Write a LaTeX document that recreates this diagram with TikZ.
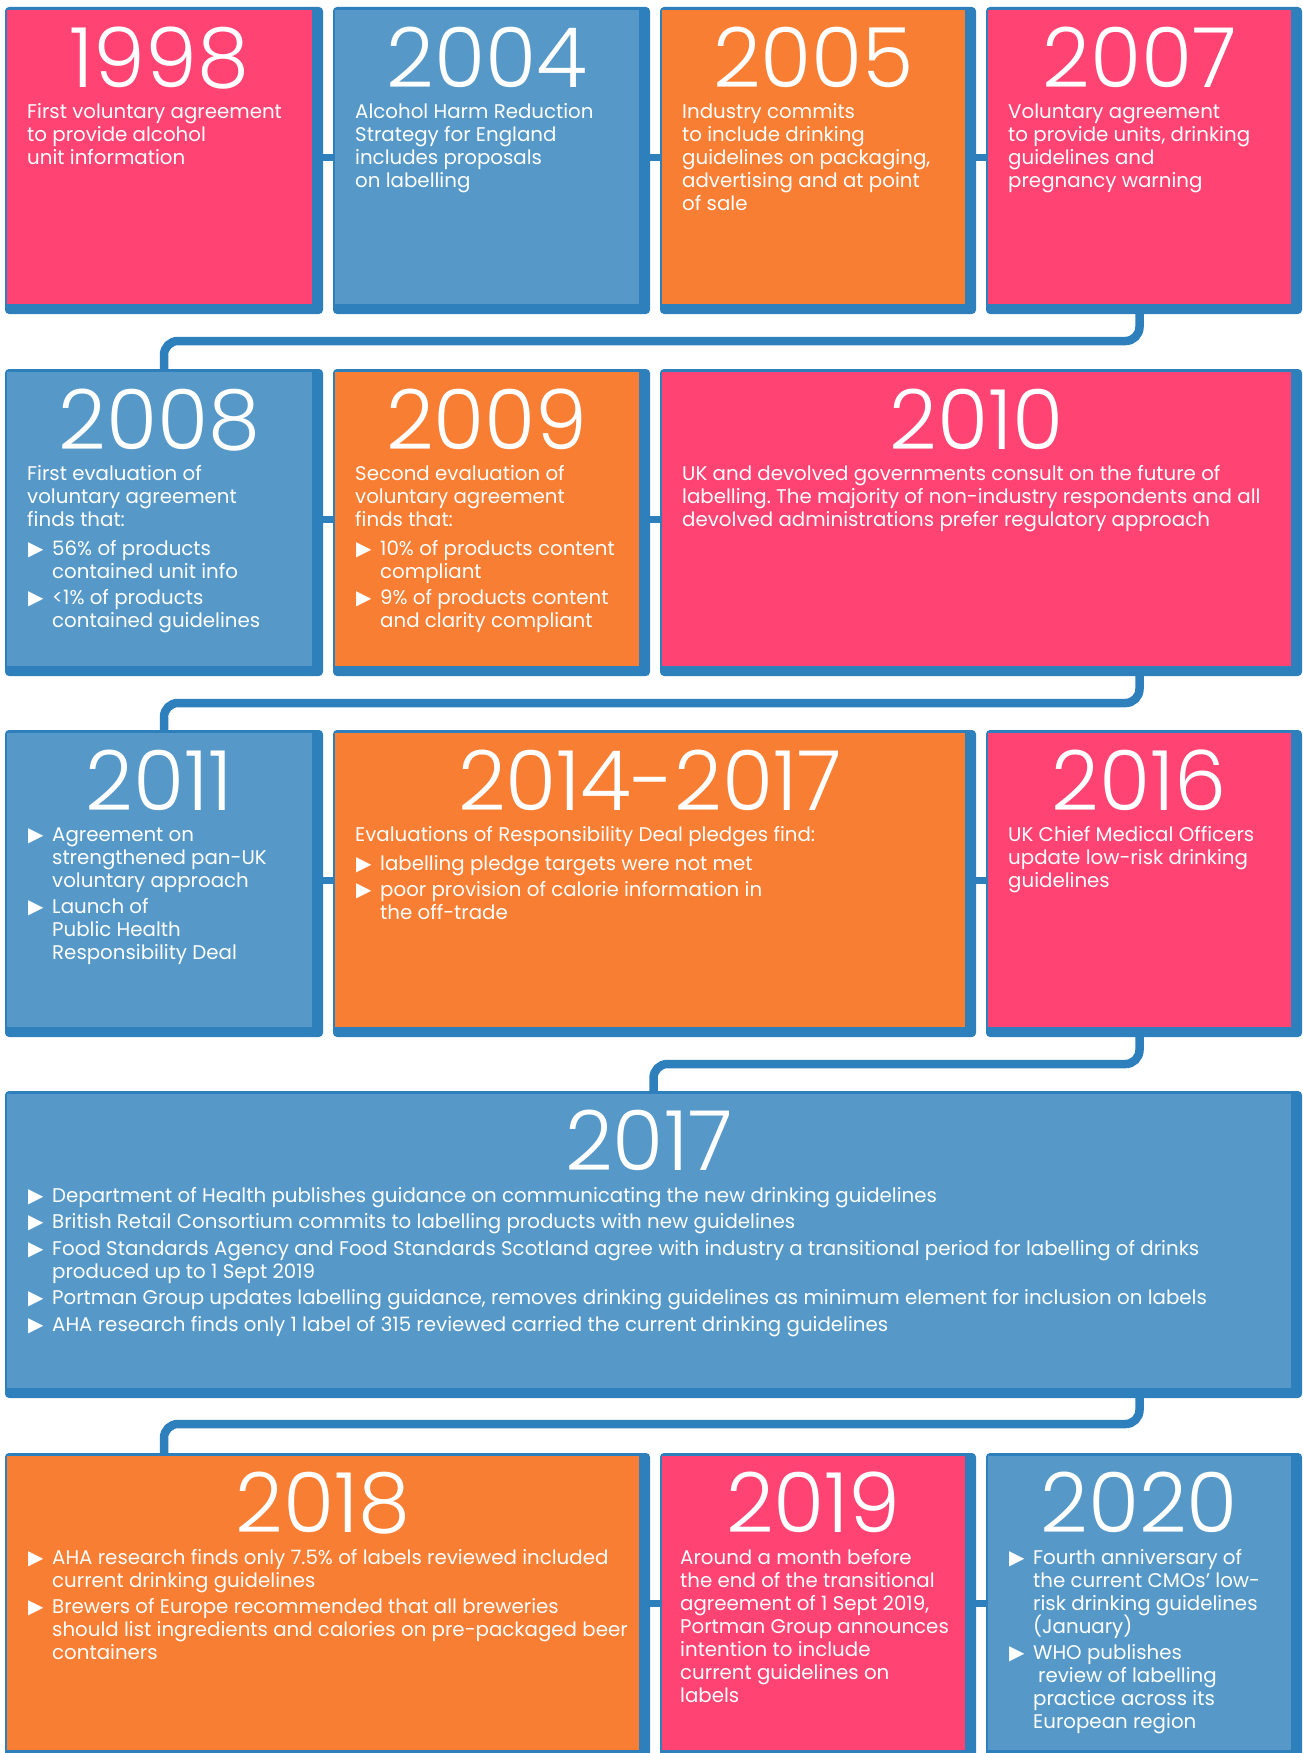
\documentclass[tikz,border=0pt]{standalone}
\usepackage{fontspec}
\setmainfont{Poppins}
\newfontfamily\yearfont{Poppins}[UprightFont={* Light}]
\newfontfamily\dejavu{DejaVu Sans}
\usetikzlibrary{calc}
\definecolor{tlpink}{HTML}{FF4373}
\definecolor{tlblue}{HTML}{5699C8}
\definecolor{tlorange}{HTML}{F87E34}
\definecolor{tldark}{HTML}{2D80BC}
\frenchspacing
\tikzset{
 outerbox/.style={fill=tldark, rounded corners=4pt, inner sep=0pt, outer sep=0pt, anchor=north west, draw=none},
 facebox/.style={inner sep=0pt, outer sep=0pt, anchor=north west, draw=none},
 yeartxt/.style={anchor=base, inner sep=0pt, text=white, font=\yearfont\fontsize{83}{83}\selectfont},
 bodytxt/.style={anchor=base west, inner sep=0pt, text=white, font=\fontsize{19.8}{23}\selectfont},
 link/.style={draw=tldark, line width=7pt},
 rowlink/.style={draw=tldark, line width=8.5pt, rounded corners=14pt},
}
\newcommand\tlbox[6]{%
 \pgfmathsetmacro\bw{#4-#2}\pgfmathsetmacro\bh{#5-#3}%
 \pgfmathsetmacro\fw{#4-#2-13}\pgfmathsetmacro\fh{#5-#3-13}%
 \node[outerbox, minimum width=\bw pt, minimum height=\bh pt] (o#1) at (#2,#3) {};
 \node[facebox, fill=#6, minimum width=\fw pt, minimum height=\fh pt] (f#1) at (#2+2,#3+3) {};
}
\newcommand\tri{{\dejavu\fontsize{20}{20}\selectfont\char"25B6}}
\newcommand\pl[1]{\hbox{#1}}
\newcommand\bl[1]{\hbox{\hbox to 25pt{\hskip 1pt\tri\hss}#1}}
\newcommand\cl[1]{\hbox{\hskip 25pt #1}}
\newcommand\gp{\vskip 3.5pt}
\newcommand\gq{\vskip 6pt}
\newcommand\tx[1]{\vtop{\lineskiplimit=-100pt #1}}
\begin{document}
\begin{tikzpicture}[x=1pt,y=-1pt]
\useasboundingbox (0,0) rectangle (1302,1753);
\coordinate (h1) at (600,341);
\coordinate (h2) at (600,703);
\coordinate (h3) at (900,1064);
\coordinate (h4) at (600,1424);
% boxes
\tlbox{1998}{5}{7}{323}{314}{tlpink}
\tlbox{2004}{333}{7}{650}{314}{tlblue}
\tlbox{2005}{660}{7}{976}{314}{tlorange}
\tlbox{2007}{986}{7}{1302}{314}{tlpink}
\tlbox{2008}{5}{369}{323}{676}{tlblue}
\tlbox{2009}{333}{369}{650}{676}{tlorange}
\tlbox{2010}{660}{369}{1302}{676}{tlpink}
\tlbox{2011}{5}{730}{323}{1037}{tlblue}
\tlbox{2014}{333}{730}{976}{1037}{tlorange}
\tlbox{2016}{986}{730}{1302}{1037}{tlpink}
\tlbox{2017}{5}{1091}{1302}{1398}{tlblue}
\tlbox{2018}{5}{1453}{650}{1760}{tlorange}
\tlbox{2019}{660}{1453}{976}{1760}{tlpink}
\tlbox{2020}{986}{1453}{1302}{1760}{tlblue}
% row connectors
\draw[rowlink] (o2007.south -| f2007.south) |- (h1) -| (o2008.north);
\draw[rowlink] (o2010.south -| f2007.south) |- (h2) -| (o2011.north);
\draw[rowlink] (o2016.south -| f2016.south) |- (h3) -| (o2017.north);
\draw[rowlink] (o2017.south -| f2016.south) |- (h4) -| (o2018.north -| o2011.north);
% links within rows
\draw[link] (o1998.east |- f1998.east) -- (o2004.west |- f2004.west);
\draw[link] (o2004.east |- f2004.east) -- (o2005.west |- f2005.west);
\draw[link] (o2005.east |- f2005.east) -- (o2007.west |- f2007.west);
\draw[link] (o2008.east |- f2008.east) -- (o2009.west |- f2009.west);
\draw[link] (o2009.east |- f2009.east) -- (o2010.west |- f2010.west);
\draw[link] (o2011.east |- f2011.east) -- (o2014.west |- f2014.west);
\draw[link] (o2014.east |- f2014.east) -- (o2016.west |- f2016.west);
\draw[link] (o2018.east |- f2018.east) -- (o2019.west |- f2019.west);
\draw[link] (o2019.east |- f2019.east) -- (o2020.west |- f2020.west);
% years
\node[yeartxt] (y1998) at (f1998.center |- 0,87) {1998};
\node[yeartxt] (y2004) at (f2004.center |- 0,87) {2004};
\node[yeartxt] (y2005) at (f2005.center |- 0,87) {2005};
\node[yeartxt] (y2007) at (f2007.center |- 0,87) {2007};
\node[yeartxt] (y2008) at (f2008.center |- 0,449) {2008};
\node[yeartxt] (y2009) at (f2009.center |- 0,449) {2009};
\node[yeartxt] (y2010) at (f2010.center |- 0,449) {2010};
\node[yeartxt] (y2011) at (f2011.center |- 0,810) {2011};
\node[yeartxt] (y2014) at (f2014.center |- 0,810) {2014-2017};
\node[yeartxt] (y2016) at (f2016.center |- 0,810) {2016};
\node[yeartxt] (y2017) at (f2017.center |- 0,1170) {2017};
\node[yeartxt] (y2018) at (f2018.center |- 0,1532) {2018};
\node[yeartxt] (y2019) at (f2019.center |- 0,1532) {2019};
\node[yeartxt] (y2020) at (f2020.center |- 0,1532) {2020};
% body texts
\node[bodytxt] (b1998) at (27,118) {\tx{\pl{First voluntary agreement}\pl{to provide alcohol}\pl{unit information}}};
\node[bodytxt] (b2004) at (355,118) {\tx{\pl{Alcohol Harm Reduction}\pl{Strategy for England}\pl{includes proposals}\pl{on labelling}}};
\node[bodytxt] (b2005) at (682,118) {\tx{\pl{Industry commits}\pl{to include drinking}\pl{guidelines on packaging,}\pl{advertising and at point}\pl{of sale}}};
\node[bodytxt] (b2007) at (1008,118) {\tx{\pl{Voluntary agreement}\pl{to provide units, drinking}\pl{guidelines and}\pl{pregnancy warning}}};
\node[bodytxt] (b2008) at (27,480) {\tx{\pl{First evaluation of}\pl{voluntary agreement}\pl{finds that:}\gq\bl{56\% of products}\cl{contained unit info}\gp\bl{<1\% of products}\cl{contained guidelines}}};
\node[bodytxt] (b2009) at (355,480) {\tx{\pl{Second evaluation of}\pl{voluntary agreement}\pl{finds that:}\gq\bl{10\% of products content}\cl{compliant}\gp\bl{9\% of products content}\cl{and clarity compliant}}};
\node[bodytxt] (b2010) at (682,480) {\tx{\pl{UK and devolved governments consult on the future of}\pl{labelling. The majority of non-industry respondents and all}\pl{devolved administrations prefer regulatory approach}}};
\node[bodytxt] (b2011) at (27,841) {\tx{\bl{Agreement on}\cl{strengthened pan-UK}\cl{voluntary approach}\gp\bl{Launch of}\cl{Public Health}\cl{Responsibility Deal}}};
\node[bodytxt] (b2014) at (355,841) {\tx{\pl{Evaluations of Responsibility Deal pledges find:}\gq\bl{labelling pledge targets were not met}\gp\bl{poor provision of calorie information in}\cl{the off-trade}}};
\node[bodytxt] (b2016) at (1008,841) {\tx{\pl{UK Chief Medical Officers}\pl{update low-risk drinking}\pl{guidelines}}};
\node[bodytxt] (b2017) at (27,1202) {\tx{\bl{Department of Health publishes guidance on communicating the new drinking guidelines}\gp\bl{British Retail Consortium commits to labelling products with new guidelines}\gp\bl{Food Standards Agency and Food Standards Scotland agree with industry a transitional period for labelling of drinks}\cl{produced up to 1 Sept 2019}\gp\bl{Portman Group updates labelling guidance, removes drinking guidelines as minimum element for inclusion on labels}\gp\bl{AHA research finds only 1 label of 315 reviewed carried the current drinking guidelines}}};
\node[bodytxt] (b2018) at (27,1564) {\tx{\bl{AHA research finds only 7.5\% of labels reviewed included}\cl{current drinking guidelines}\gp\bl{Brewers of Europe recommended that all breweries}\cl{should list ingredients and calories on pre-packaged beer}\cl{containers}}};
\node[bodytxt] (b2019) at (680,1564) {\tx{\pl{Around a month before}\pl{the end of the transitional}\pl{agreement of 1 Sept 2019,}\pl{Portman Group announces}\pl{intention to include}\pl{current guidelines on}\pl{labels}}};
\node[bodytxt] (b2020) at (1008,1564) {\tx{\bl{Fourth anniversary of}\cl{the current CMOs’ low-}\cl{risk drinking guidelines}\cl{(January)}\gp\bl{WHO publishes}\cl{\hskip 5pt review of labelling}\cl{practice across its}\cl{European region}}};
\end{tikzpicture}
\end{document}
